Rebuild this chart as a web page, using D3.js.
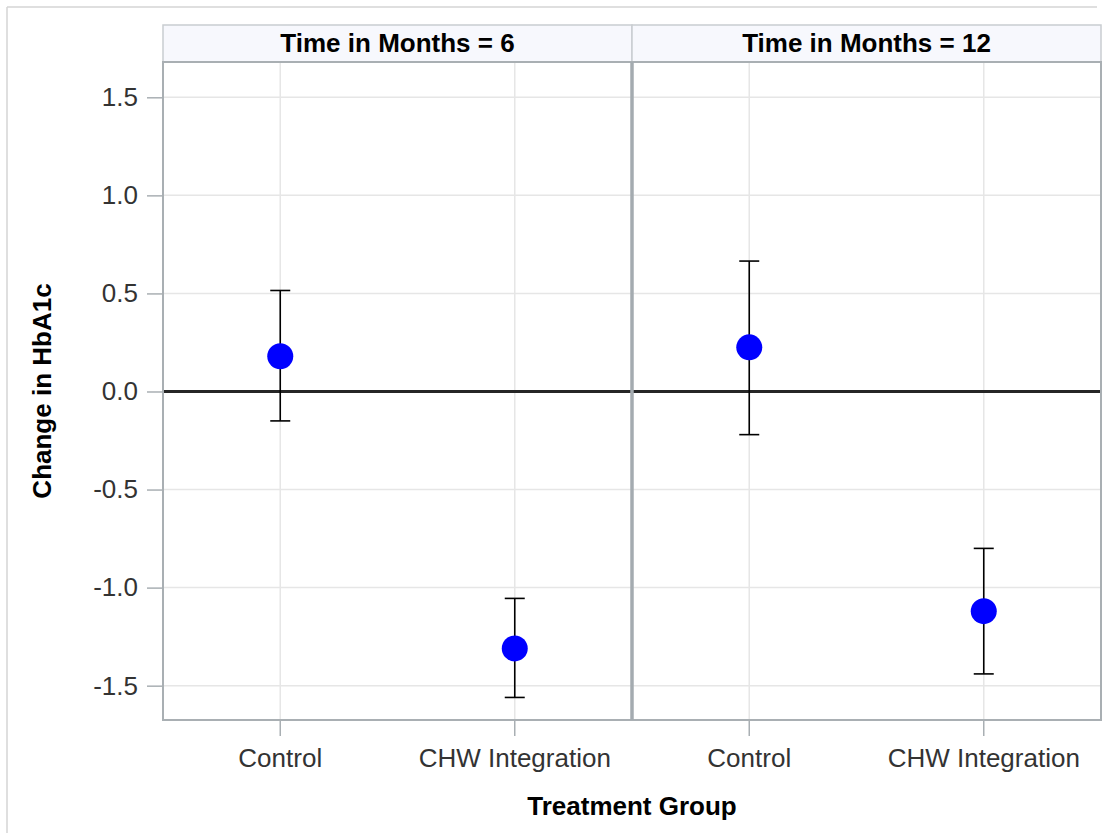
<!DOCTYPE html>
<html>
<head>
<meta charset="utf-8">
<script src="https://cdn.jsdelivr.net/npm/d3@7"></script>
<style>
  html, body { margin: 0; padding: 0; background: #fff; }
  svg { display: block; font-family: "Liberation Sans", Arial, sans-serif; }
</style>
</head>
<body>
<svg id="chart" width="1106" height="833"></svg>
<script>
// Panels (time points) and treatment groups
const times = [6, 12];
const groups = ["Control", "CHW Integration"];

// Mean change in HbA1c with confidence limits, one array per time point
const mean6 = [0.18, -1.31];
const lower6 = [-0.15, -1.56];
const upper6 = [0.515, -1.055];

const mean12 = [0.225, -1.12];
const lower12 = [-0.22, -1.44];
const upper12 = [0.665, -0.80];

const yTicks = [-1.5, -1.0, -0.5, 0.0, 0.5, 1.0, 1.5];

const panelData = [
  { time: 6, mean: mean6, lower: lower6, upper: upper6 },
  { time: 12, mean: mean12, lower: lower12, upper: upper12 }
];

const svg = d3.select("#chart");
const plotLeft = 163, plotRight = 1101, plotTop = 62, plotBottom = 720;
const headerTop = 25;

// Outer frame (top and left edges)
svg.append("line").attr("x1", 7).attr("x2", 1097).attr("y1", 7).attr("y2", 7)
  .attr("stroke", "#d4d4d4").attr("stroke-width", 1.5);
svg.append("line").attr("x1", 7).attr("x2", 7).attr("y1", 7).attr("y2", 833)
  .attr("stroke", "#d4d4d4").attr("stroke-width", 1.5);

const y = d3.scaleLinear().domain([-1.675, 1.68]).range([plotBottom, plotTop]);
const panelX = d3.scaleBand().domain(times).range([plotLeft, plotRight]).padding(0);
const pw = panelX.bandwidth();
const gx = d3.scaleBand().domain(groups).range([0, pw]).padding(0);
const cx = g => gx(g) + gx.bandwidth() / 2;

// Tick labels use a plain hyphen for negatives
const fmt = d => d.toFixed(1);

const panels = svg.selectAll("g.panel").data(panelData).join("g")
  .attr("class", "panel")
  .attr("transform", d => `translate(${panelX(d.time)},0)`);

// Header strip
panels.append("rect")
  .attr("x", 0).attr("y", headerTop).attr("width", pw).attr("height", plotTop - headerTop)
  .attr("fill", "#f7f8fd").attr("stroke", "#c9cdd1").attr("stroke-width", 1.5);
panels.append("text")
  .attr("x", pw / 2).attr("y", 52)
  .attr("text-anchor", "middle")
  .attr("font-size", 26).attr("font-weight", "bold").attr("fill", "#000")
  .text(d => `Time in Months = ${d.time}`);

// Gridlines
panels.selectAll("line.hgrid").data(yTicks).join("line")
  .attr("class", "hgrid")
  .attr("x1", 0).attr("x2", pw)
  .attr("y1", d => y(d)).attr("y2", d => y(d))
  .attr("stroke", "#e6e6e6").attr("stroke-width", 1.5);
panels.selectAll("line.vgrid").data(groups).join("line")
  .attr("class", "vgrid")
  .attr("x1", d => cx(d)).attr("x2", d => cx(d))
  .attr("y1", plotTop).attr("y2", plotBottom)
  .attr("stroke", "#e6e6e6").attr("stroke-width", 1.5);

// Reference line at zero
panels.append("line")
  .attr("x1", 0).attr("x2", pw)
  .attr("y1", y(0)).attr("y2", y(0))
  .attr("stroke", "#262626").attr("stroke-width", 3);

// Panel border
panels.append("rect")
  .attr("x", 0).attr("y", plotTop).attr("width", pw).attr("height", plotBottom - plotTop)
  .attr("fill", "none").attr("stroke", "#a9afb3").attr("stroke-width", 2);

// Heavier divider where the two panels meet
svg.append("line")
  .attr("x1", panelX(times[1])).attr("x2", panelX(times[1]))
  .attr("y1", plotTop).attr("y2", plotBottom)
  .attr("stroke", "#a4abb0").attr("stroke-width", 3.5);

// Error bars and means
panels.each(function(d) {
  const g = d3.select(this);
  const rows = groups.map((grp, i) => ({ grp, m: d.mean[i], lo: d.lower[i], hi: d.upper[i] }));
  const capHalf = 10;
  g.selectAll("line.err").data(rows).join("line")
    .attr("class", "err")
    .attr("x1", r => cx(r.grp)).attr("x2", r => cx(r.grp))
    .attr("y1", r => y(r.lo)).attr("y2", r => y(r.hi))
    .attr("stroke", "#000").attr("stroke-width", 1.6);
  g.selectAll("line.capHi").data(rows).join("line")
    .attr("class", "capHi")
    .attr("x1", r => cx(r.grp) - capHalf).attr("x2", r => cx(r.grp) + capHalf)
    .attr("y1", r => y(r.hi)).attr("y2", r => y(r.hi))
    .attr("stroke", "#000").attr("stroke-width", 1.6);
  g.selectAll("line.capLo").data(rows).join("line")
    .attr("class", "capLo")
    .attr("x1", r => cx(r.grp) - capHalf).attr("x2", r => cx(r.grp) + capHalf)
    .attr("y1", r => y(r.lo)).attr("y2", r => y(r.lo))
    .attr("stroke", "#000").attr("stroke-width", 1.6);
  g.selectAll("circle.mean").data(rows).join("circle")
    .attr("class", "mean")
    .attr("cx", r => cx(r.grp)).attr("cy", r => y(r.m)).attr("r", 13)
    .attr("fill", "#0000ff");

  // X axis for this panel
  const ax = g.append("g").attr("transform", `translate(0,${plotBottom})`)
    .call(d3.axisBottom(gx).tickSize(16).tickPadding(13));
  ax.select(".domain").remove();
  ax.selectAll(".tick line").attr("stroke", "#a9afb3").attr("stroke-width", 1.5);
  ax.selectAll(".tick text").attr("font-size", 26).attr("fill", "#333")
    .attr("font-family", "Liberation Sans, Arial, sans-serif");
});

// Y axis
const yAxis = svg.append("g").attr("transform", `translate(${plotLeft},0)`)
  .call(d3.axisLeft(y).tickValues(yTicks).tickFormat(fmt).tickSize(16).tickPadding(9));
yAxis.select(".domain").remove();
yAxis.selectAll(".tick line").attr("stroke", "#a9afb3").attr("stroke-width", 1.5);
yAxis.selectAll(".tick text").attr("font-size", 26).attr("fill", "#333")
  .attr("font-family", "Liberation Sans, Arial, sans-serif");

// Axis titles
svg.append("text")
  .attr("x", (plotLeft + plotRight) / 2).attr("y", 815)
  .attr("text-anchor", "middle").attr("font-size", 26).attr("font-weight", "bold")
  .text("Treatment Group");
svg.append("text")
  .attr("transform", `translate(51,${(plotTop + plotBottom) / 2}) rotate(-90)`)
  .attr("text-anchor", "middle").attr("font-size", 26).attr("font-weight", "bold")
  .text("Change in HbA1c");
</script>
</body>
</html>
